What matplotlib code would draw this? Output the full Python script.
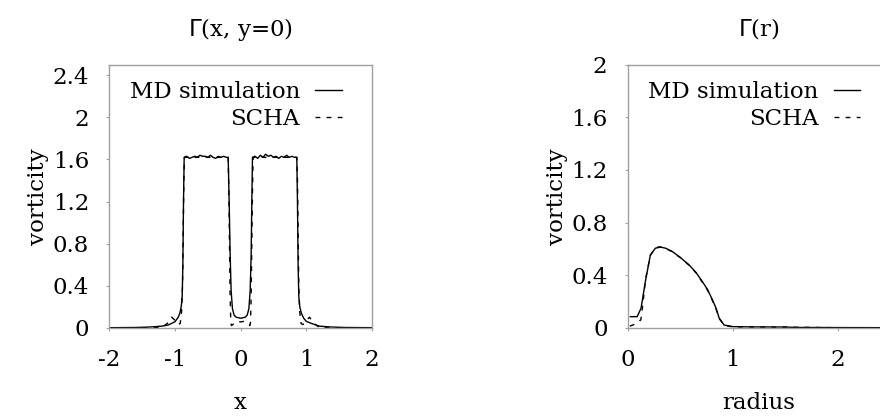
import matplotlib
matplotlib.use("Agg")
import matplotlib.pyplot as plt

plt.rcParams['font.family'] = ['DejaVu Serif', 'DejaVu Sans']
plt.rcParams['mathtext.fontset'] = 'dejavusans'

# ---- Gamma(x, y=0): MD simulation ----
md_x_x = [-2.0, -1.6, -1.4, -1.3, -1.2, -1.1, -1.0, -0.95, -0.925, -0.905, -0.89, -0.88, -0.87,
          -0.86, -0.82, -0.78, -0.74, -0.70, -0.66, -0.62, -0.58, -0.54, -0.50, -0.46, -0.42,
          -0.38, -0.34, -0.30, -0.26, -0.22, -0.19,
          -0.175, -0.16, -0.145, -0.125, -0.10, -0.07, 0.0, 0.07, 0.10, 0.125, 0.145, 0.16, 0.17,
          0.18, 0.22, 0.26, 0.30, 0.34, 0.38, 0.42, 0.46, 0.50, 0.54, 0.58, 0.62, 0.66, 0.70,
          0.74, 0.78, 0.82, 0.855,
          0.865, 0.875, 0.885, 0.90, 0.925, 0.96, 1.0, 1.08, 1.2, 1.3, 1.4, 1.6, 2.0]
md_x_y = [0.0, 0.002, 0.006, 0.01, 0.015, 0.026, 0.057, 0.10, 0.14, 0.20, 0.30, 0.60, 1.20,
          1.62, 1.63, 1.61, 1.62, 1.63, 1.62, 1.64, 1.63, 1.63, 1.62, 1.64, 1.62,
          1.61, 1.63, 1.62, 1.63, 1.62, 1.62,
          1.20, 0.70, 0.35, 0.18, 0.12, 0.10, 0.09, 0.10, 0.12, 0.18, 0.35, 0.70, 1.20,
          1.62, 1.63, 1.61, 1.64, 1.62, 1.65, 1.63, 1.64, 1.62, 1.63, 1.61, 1.63, 1.62, 1.64,
          1.62, 1.63, 1.62, 1.62,
          1.20, 0.60, 0.30, 0.20, 0.137, 0.09, 0.06, 0.04, 0.015, 0.01, 0.006, 0.002, 0.0]

# ---- Gamma(x, y=0): SCHA ----
scha_x_x = [-2.0, -1.4, -1.2, -1.1, -1.05, -1.0, -0.95, -0.92, -0.90, -0.885, -0.875, -0.865,
            -0.855, -0.19, -0.18, -0.17, -0.16, -0.15, -0.14, -0.10, -0.05, 0.0,
            0.05, 0.10, 0.14, 0.15, 0.16, 0.17, 0.18, 0.19, 0.855, 0.865, 0.875, 0.885, 0.90,
            0.92, 0.95, 1.0, 1.05, 1.1, 1.2, 1.4, 2.0]
scha_x_y = [0.0, 0.0, 0.0, 0.05, 0.10, 0.07, 0.03, 0.04, 0.15, 0.40, 0.90, 1.40,
            1.62, 1.62, 1.30, 0.80, 0.30, 0.05, 0.02, 0.04, 0.06, 0.055,
            0.06, 0.04, 0.02, 0.05, 0.30, 0.80, 1.30, 1.62, 1.62, 1.40, 0.90, 0.40, 0.15,
            0.04, 0.03, 0.07, 0.10, 0.05, 0.0, 0.0, 0.0]

# ---- Gamma(r): MD simulation ----
md_r_x = [0.025, 0.09, 0.127, 0.17, 0.216, 0.264, 0.312, 0.36, 0.424, 0.50, 0.583, 0.65,
          0.711, 0.76, 0.807, 0.84, 0.871, 0.918, 1.0, 1.2, 1.5, 1.6, 2.0, 2.5]
md_r_y = [0.084, 0.084, 0.148, 0.36, 0.554, 0.605, 0.613, 0.605, 0.58, 0.535, 0.478, 0.42,
          0.35, 0.29, 0.211, 0.15, 0.072, 0.02, 0.008, 0.006, 0.005, 0.002, 0.001, 0.0]

# ---- Gamma(r): SCHA ----
scha_r_x = [0.02, 0.08, 0.125, 0.14, 0.17, 0.216, 0.264, 0.312, 0.36, 0.424, 0.50, 0.583,
            0.65, 0.711, 0.76, 0.807, 0.84, 0.871, 0.918, 1.0, 1.5, 2.0, 2.5]
scha_r_y = [0.012, 0.03, 0.06, 0.15, 0.37, 0.55, 0.61, 0.615, 0.603, 0.578, 0.533, 0.476,
            0.418, 0.345, 0.285, 0.205, 0.145, 0.07, 0.018, 0.006, 0.004, 0.0, 0.0]

x_ticks = [-2, -1, 0, 1, 2]
x_tick_labels = ['-2', '-1', '0', '1', '2']
y_ticks_x = [0, 0.4, 0.8, 1.2, 1.6, 2.0, 2.4]
y_tick_labels_x = ['0', '0.4', '0.8', '1.2', '1.6', '2', '2.4']
r_ticks = [0, 1, 2]
r_tick_labels = ['0', '1', '2']
y_ticks_r = [0, 0.4, 0.8, 1.2, 1.6, 2.0]
y_tick_labels_r = ['0', '0.4', '0.8', '1.2', '1.6', '2']

W, H = 880, 416
fig = plt.figure(figsize=(W / 100, H / 100), dpi=100)

def px_axes(left, bottom, right, top):
    return fig.add_axes([left / W, 1 - bottom / H, (right - left) / W, (bottom - top) / H])

ax1 = px_axes(109.3, 327.7, 372.0, 64.8)
ax2 = px_axes(627.7, 327.7, 890.4, 64.8)

FS = 16.5
spine_col = '#a0a0a0'

def style(ax):
    for s in ax.spines.values():
        s.set_color(spine_col)
        s.set_linewidth(1.0)
    ax.tick_params(direction='out', length=2.5, width=0.8, color=spine_col,
                   labelsize=FS, labelcolor='black')
    ax.tick_params(axis='x', pad=13)
    ax.tick_params(axis='y', pad=12)

dash = (0, (3.5, 4.5))

ax1.plot(md_x_x, md_x_y, color='black', lw=1.0, label='MD simulation')
ax1.plot(scha_x_x, scha_x_y, color='black', lw=1.0, ls=dash, label='SCHA')
ax1.set_xlim(-2, 2)
ax1.set_ylim(0, 2.5)
ax1.set_xticks(x_ticks)
ax1.set_xticklabels(x_tick_labels)
ax1.set_yticks(y_ticks_x)
ax1.set_yticklabels(y_tick_labels_x)
style(ax1)
ax1.set_xlabel('x', fontsize=FS)
ax1.set_ylabel('vorticity', fontsize=FS)
ax1.set_title(r'$\Gamma$(x, y=0)', fontsize=16.5, pad=21)

ax2.plot(md_r_x, md_r_y, color='black', lw=1.0, label='MD simulation')
ax2.plot(scha_r_x, scha_r_y, color='black', lw=1.0, ls=dash, label='SCHA')
ax2.set_xlim(0, 2.5)
ax2.set_ylim(0, 2.0)
ax2.set_xticks(r_ticks)
ax2.set_xticklabels(r_tick_labels)
ax2.set_yticks(y_ticks_r)
ax2.set_yticklabels(y_tick_labels_r)
style(ax2)
ax2.set_xlabel('radius', fontsize=FS)
ax2.set_ylabel('vorticity', fontsize=FS)
ax2.set_title(r'$\Gamma$(r)', fontsize=16.5, pad=21)

for ax in (ax1, ax2):
    ax.xaxis.set_label_coords(0.5, -0.245)
    ax.yaxis.set_label_coords(-0.228, 0.5)
    ax.legend(loc='upper right', bbox_to_anchor=(0.885, 0.94), frameon=False,
              markerfirst=False, fontsize=FS, handlelength=1.15, handletextpad=0.68,
              labelspacing=0.22, borderpad=0, borderaxespad=0)

fig.savefig('out.png', dpi=100)
